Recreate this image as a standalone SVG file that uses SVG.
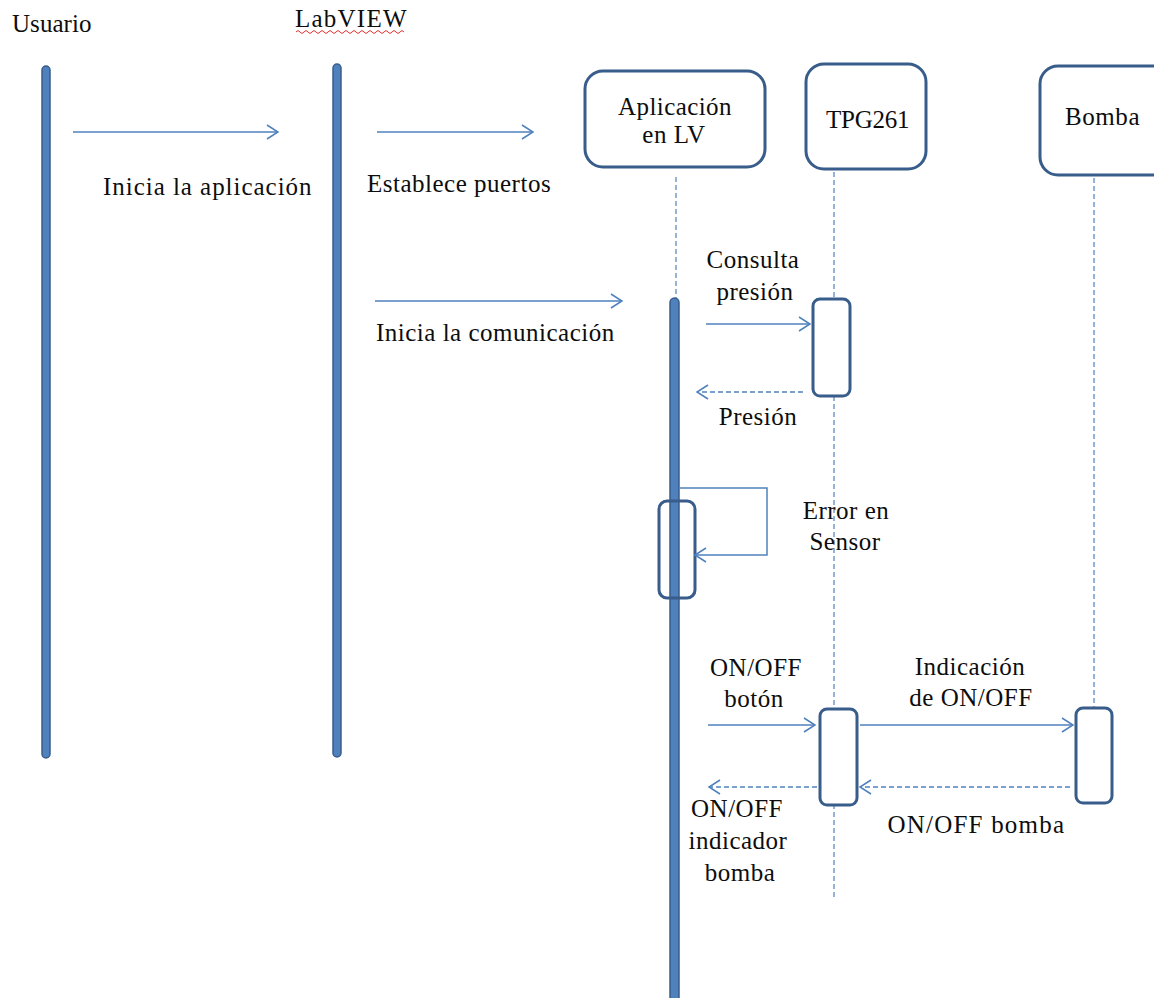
<svg xmlns="http://www.w3.org/2000/svg" width="1154" height="998" viewBox="0 0 1154 998">
<style>
.t{font-family:"Liberation Serif","Times New Roman",serif;font-size:25px;fill:#0d0d0d;letter-spacing:0.5px;}
.mid{text-anchor:middle;}
.bar{fill:#4f81bd;stroke:#385d8a;stroke-width:1.5;}
.box{fill:#fff;stroke:#385d8a;stroke-width:3;}
.act{fill:#fff;stroke:#385d8a;stroke-width:3;}
.life{stroke:#4f81bd;stroke-width:1.2;stroke-dasharray:5,3;fill:none;}
.msg{stroke:#4f81bd;stroke-width:1.5;fill:none;marker-end:url(#open);}
.ret{stroke:#4f81bd;stroke-width:1.5;fill:none;stroke-dasharray:5,3;marker-end:url(#open);}
</style>
<defs>
<marker id="open" markerUnits="userSpaceOnUse" markerWidth="14" markerHeight="16" refX="12" refY="8" orient="auto">
<path d="M1,1 L12,8 L1,15" fill="none" stroke="#4f81bd" stroke-width="1.5"/>
</marker>
</defs>
<rect width="1154" height="998" fill="#fff"/>

<g id="usuario">
<text class="t" x="12" y="32" textLength="80">Usuario</text>
<rect class="bar" x="42" y="66" width="8" height="692" rx="4"/>
</g>

<g id="labview">
<text class="t" x="295" y="27" textLength="112">LabVIEW</text>
<path d="M296,32 q2,-3 4,0 t4,0 t4,0 t4,0 t4,0 t4,0 t4,0 t4,0 t4,0 t4,0 t4,0 t4,0 t4,0 t4,0 t4,0 t4,0 t4,0 t4,0 t4,0 t4,0 t4,0 t4,0 t4,0 t4,0 t4,0 t4,0 t4,0" fill="none" stroke="#e03030" stroke-width="1"/>
<rect class="bar" x="333" y="64" width="8" height="693" rx="4"/>
</g>

<g id="aplicacion">
<line class="life" x1="676" y1="177" x2="676" y2="298"/>
<rect class="box" x="585" y="71" width="180" height="96" rx="18"/>
<text class="t mid" x="675" y="115" textLength="114">Aplicación</text>
<text class="t mid" x="674" y="143">en LV</text>
<rect class="bar" x="670" y="298" width="9" height="710" rx="4.5"/>
<rect x="659" y="501" width="36" height="97" rx="8" fill="none" stroke="#385d8a" stroke-width="3"/>
</g>

<g id="tpg261">
<line class="life" x1="834" y1="172" x2="834" y2="897"/>
<rect class="box" x="806" y="64" width="120" height="105" rx="18"/>
<text class="t mid" x="868" y="128" textLength="84">TPG261</text>
<rect class="act" x="813" y="299" width="37" height="97" rx="7"/>
<rect class="act" x="820" y="709" width="37" height="96" rx="7"/>
</g>

<g id="bomba">
<line class="life" x1="1094" y1="178" x2="1094" y2="708"/>
<rect class="box" x="1040" y="66" width="130" height="109" rx="18"/>
<text class="t" x="1065" y="125" textLength="75">Bomba</text>
<rect class="act" x="1076" y="708" width="36" height="95" rx="7"/>
</g>

<g id="connectors">
<line class="msg" x1="73" y1="132" x2="278" y2="132"/>
<line class="msg" x1="377" y1="132" x2="533" y2="132"/>
<line class="msg" x1="375" y1="301" x2="622" y2="301"/>
<line class="msg" x1="706" y1="324" x2="810" y2="324"/>
<line class="ret" x1="803" y1="392" x2="697" y2="392"/>
<polyline class="msg" points="680,488 767,488 767,555 695,555"/>
<line class="msg" x1="708" y1="725" x2="815" y2="725"/>
<line class="msg" x1="860" y1="725" x2="1073" y2="725"/>
<line class="ret" x1="1070" y1="787" x2="860" y2="787"/>
<line class="ret" x1="817" y1="787" x2="709" y2="787"/>
</g>

<g id="labels">
<text class="t" x="103" y="195" textLength="209">Inicia la aplicación</text>
<text class="t" x="367" y="192">Establece puertos</text>
<text class="t" x="376" y="341">Inicia la comunicación</text>
<text class="t mid" x="753" y="268">Consulta</text>
<text class="t mid" x="755" y="300">presión</text>
<text class="t mid" x="758" y="425">Presión</text>
<text class="t mid" x="846" y="519">Error en</text>
<text class="t mid" x="845" y="550">Sensor</text>
<text class="t mid" x="756" y="676">ON/OFF</text>
<text class="t mid" x="754" y="707">botón</text>
<text class="t mid" x="970" y="675">Indicación</text>
<text class="t mid" x="971" y="706">de ON/OFF</text>
<text class="t mid" x="976" y="833" textLength="177">ON/OFF bomba</text>
<text class="t mid" x="737" y="817">ON/OFF</text>
<text class="t mid" x="738" y="849">indicador</text>
<text class="t mid" x="740" y="881">bomba</text>
</g>
</svg>
